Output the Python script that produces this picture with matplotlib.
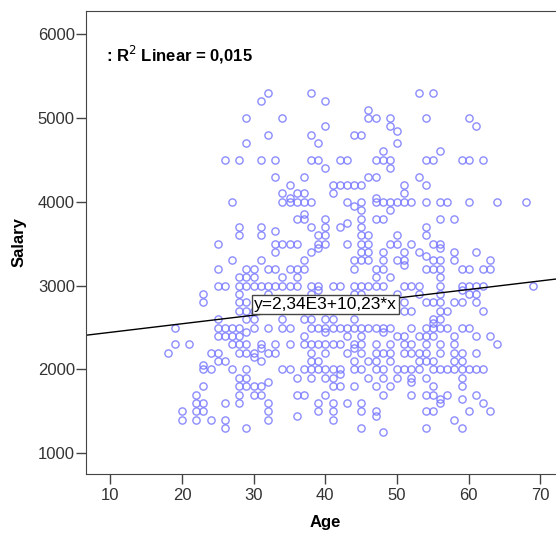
import matplotlib
matplotlib.use("Agg")
from matplotlib import pyplot as plt

plt.rcParams["font.family"] = ["Liberation Sans", "DejaVu Sans"]

# salary levels and the ages of the people found at each level
salary_levels = [5300, 5200, 5100, 5000, 4900, 4850, 4800, 4700, 4600, 4500,
                 4400, 4300, 4200, 4100, 4050, 4000, 3950, 3900, 3850, 3800,
                 3750, 3700, 3650, 3600, 3500, 3450, 3400, 3350, 3300, 3250,
                 3200, 3100, 3000, 2950, 2900, 2800, 2700, 2600, 2550, 2500,
                 2450, 2400, 2300, 2250, 2200, 2150, 2100, 2050, 2000, 1950,
                 1900, 1850, 1800, 1700, 1650, 1600, 1500, 1450, 1400, 1300,
                 1250]
ages_at_level = [
    [32, 38, 53, 55],
    [31, 40],
    [46],
    [29, 34, 46, 47, 49, 54, 60],
    [40, 49, 61],
    [50],
    [32, 38, 44, 45],
    [29, 39, 50],
    [48, 56],
    [26, 28, 31, 33, 38, 39, 42, 43, 47, 48, 49, 54, 55, 59, 60, 62],
    [40, 49],
    [33, 37, 46, 47, 53],
    [35, 41, 42, 43, 44, 45, 51, 54],
    [34, 36, 37, 41, 51],
    [35, 47],
    [27, 34, 35, 36, 37, 38, 43, 45, 47, 48, 49, 50, 51, 52, 54, 56, 57, 60, 64, 68],
    [44],
    [45, 49],
    [37],
    [36, 37, 40, 45, 47, 48, 56, 58],
    [43],
    [28, 31, 38, 40, 42, 45, 54],
    [33],
    [28, 31, 39, 40, 45, 46, 50, 54],
    [25, 33, 34, 35, 36, 39, 40, 43, 45, 46, 49, 50, 52, 55, 56],
    [39, 56],
    [33, 38, 45, 46, 48, 51, 53, 58, 61],
    [54],
    [27, 31, 37, 44, 45, 46, 48, 50, 51, 55, 56, 58, 63],
    [51],
    [25, 29, 30, 32, 33, 35, 36, 37, 44, 47, 48, 54, 55, 56, 59, 60, 62, 63],
    [28, 29, 30, 34, 36, 47, 49, 56],
    [25, 26, 28, 29, 30, 31, 32, 33, 34, 35, 36, 38, 39, 41, 42, 44, 45, 46, 47,
     48, 51, 52, 53, 56, 59, 60, 61, 62, 69],
    [39, 59],
    [23, 28, 32, 38, 44, 45, 50, 53, 56, 60, 61],
    [23, 28, 29, 51, 54, 55, 56, 58, 59, 61],
    [28, 29, 30, 51, 52, 56, 57, 62],
    [25, 29, 30, 34, 37, 38, 40, 41, 44, 55, 56],
    [55],
    [19, 25, 26, 27, 28, 30, 32, 34, 35, 38, 39, 40, 41, 42, 43, 44, 45, 46, 47,
     48, 49, 52, 54, 55, 56, 57, 59, 60],
    [29, 40, 48],
    [25, 26, 27, 28, 37, 43, 45, 50, 51, 53, 54, 55, 58, 61, 63],
    [19, 21, 27, 28, 29, 31, 33, 35, 37, 38, 39, 40, 41, 42, 44, 45, 47, 49, 51,
     52, 54, 56, 58, 64],
    [31, 44],
    [18, 24, 25, 28, 29, 30, 32, 33, 38, 40, 43, 45, 47, 48, 49, 51, 52, 53, 54,
     56, 58, 59, 61],
    [30],
    [25, 26, 31, 38, 39, 44, 46, 47, 49, 53, 54, 55, 58, 59],
    [23],
    [23, 24, 27, 29, 34, 35, 37, 38, 39, 40, 41, 42, 44, 45, 47, 48, 50, 51, 52,
     53, 55, 56, 57, 58, 59, 60, 61, 62],
    [42],
    [28, 29, 36, 38, 40, 41, 46, 48, 50, 52, 54, 59],
    [32, 52],
    [23, 28, 29, 30, 31, 41, 42, 44, 47, 49, 55, 59],
    [22, 28, 30, 31, 36, 37, 40, 48, 52, 54, 55, 57, 61],
    [56, 59],
    [22, 23, 26, 28, 32, 39, 41, 43, 45, 56, 62],
    [20, 22, 23, 32, 39, 41, 45, 47, 54, 55, 60, 63],
    [36, 47],
    [20, 22, 24, 26, 32, 41, 58],
    [26, 29, 45, 54, 59],
    [48],
]

# fit reported by the chart
intercept = 2340
slope = 10.23
r_squared = "0,015"
equation = "y=2,34E3+10,23*x"

age = [a for ages, s in zip(ages_at_level, salary_levels) for a in ages]
salary = [s for ages, s in zip(ages_at_level, salary_levels) for a in ages]

fig = plt.figure(figsize=(5.56, 5.35), dpi=100)
ax = fig.add_axes([86 / 556, 0.114, 478 / 556, 0.8654])

ax.plot(age, salary, "o", markersize=5.2, markerfacecolor="none",
        markeredgecolor="#7878ff", markeredgewidth=1.0, alpha=0.85)

xmin, xmax = 6.62, 73.28
ax.plot([xmin, xmax], [intercept + slope * xmin, intercept + slope * xmax],
        color="black", linewidth=1)

ax.set_xlim(xmin, xmax)
ax.set_ylim(752, 6276)
ax.set_xticks([10, 20, 30, 40, 50, 60, 70])
ax.set_yticks([1000, 2000, 3000, 4000, 5000, 6000])
ax.tick_params(direction="out", length=7, width=1, color="#444444",
               labelsize=12, labelcolor="#333333")
ax.tick_params(axis="y", pad=1)
ax.tick_params(axis="x", pad=3)
for side in ["left", "bottom", "top", "right"]:
    ax.spines[side].set_color("#444444")

ax.set_xlabel("Age", fontsize=12, fontweight="bold", labelpad=9)
ax.set_ylabel("Salary", fontsize=12, fontweight="bold", labelpad=8)

ax.text(0.042, 0.905, ": R$^2$ Linear = " + r_squared, transform=ax.transAxes,
        fontsize=12, fontweight="bold", va="center", ha="left")
ax.text(40, 2774, equation, fontsize=12.5, ha="center", va="center",
        bbox=dict(boxstyle="square,pad=0.1", facecolor="white",
                  edgecolor="#444444", linewidth=1))

fig.savefig("out.png", dpi=100)
